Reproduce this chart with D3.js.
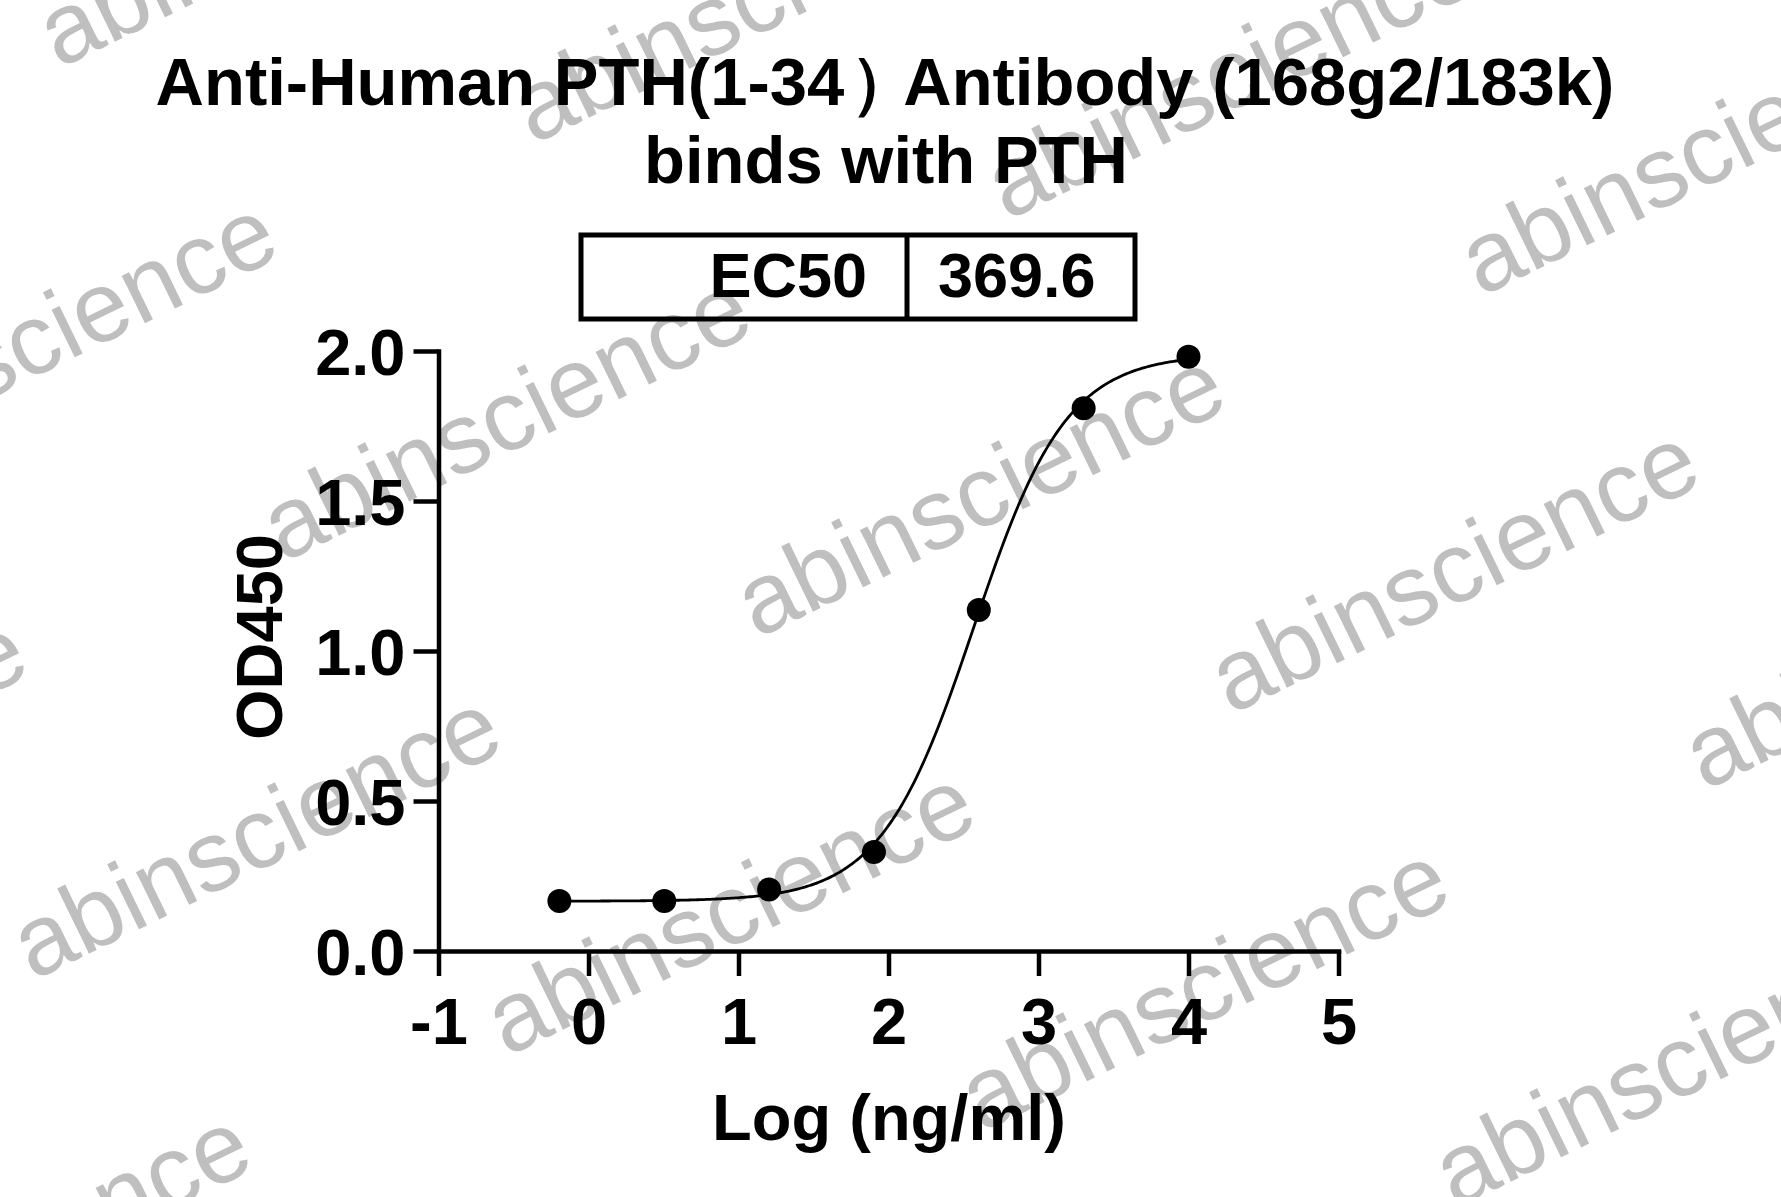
<!DOCTYPE html>
<html>
<head>
<meta charset="utf-8">
<script src="https://cdn.jsdelivr.net/npm/d3@7"></script>
<style>
html,body{margin:0;padding:0;background:#fff;}
svg{display:block;}
</style>
</head>
<body>
<svg id="chart" width="1781" height="1197"></svg>
<script>
// ---- data ----
const titleLine1Parts = ["Anti-Human PTH(1-34", "）", "Antibody (168g2/183k)"];
const titleLine2 = "binds with PTH";
const logConc = [-0.194, 0.505, 1.204, 1.903, 2.602, 3.301, 4.0];
const od450 = [0.167, 0.167, 0.205, 0.330, 1.137, 1.809, 1.981];
const xTicks = [-1, 0, 1, 2, 3, 4, 5];
const yTicks = [0.0, 0.5, 1.0, 1.5, 2.0];
const ec50Label = "EC50";
const ec50Value = "369.6";
// four-parameter logistic fit parameters
const fitBottom = 0.166, fitTop = 1.99, fitHill = 1.4, fitLogEC50 = Math.log10(369.6);
const xLabel = "Log (ng/ml)";
const yLabel = "OD450";
const watermarkText = "abinscience";

const FONT = "'Liberation Sans', Arial, Helvetica, sans-serif";
const svg = d3.select("#chart");

// ---- watermark lattice (behind everything) ----
const wm = svg.append("g");
const O = [757, 639], A = [474, 76], B = [-250, 418];
for (let i = -4; i <= 5; i++) {
  for (let j = -3; j <= 3; j++) {
    const px = O[0] + i * A[0] + j * B[0];
    const py = O[1] + i * A[1] + j * B[1];
    if (px < -700 || px > 1900 || py < -150 || py > 1450) continue;
    wm.append("text")
      .attr("transform", `translate(${px},${py}) rotate(-26)`)
      .attr("font-family", FONT)
      .attr("font-size", 100)
      .attr("fill", "#bfbfbf")
      .text(watermarkText);
  }
}

// ---- scales ----
const x = d3.scaleLinear().domain([-1, 5]).range([438.5, 1338.5]);
const y = d3.scaleLinear().domain([0, 2]).range([951, 351]);

// ---- title ----
const t1 = svg.append("text")
  .attr("x", 885).attr("y", 105)
  .attr("text-anchor", "middle")
  .attr("font-family", FONT).attr("font-weight", "bold").attr("font-size", 67).attr("fill", "#000");
t1.append("tspan").text(titleLine1Parts[0]);
t1.append("tspan").attr("dx", 6).attr("letter-spacing", -14).text(titleLine1Parts[1]);
t1.append("tspan").text(titleLine1Parts[2]);
svg.append("text")
  .attr("x", 886).attr("y", 183)
  .attr("text-anchor", "middle")
  .attr("font-family", FONT).attr("font-weight", "bold").attr("font-size", 67).attr("fill", "#000")
  .text(titleLine2);

// ---- EC50 table ----
const tb = svg.append("g");
tb.append("rect").attr("x", 581).attr("y", 235).attr("width", 554).attr("height", 84)
  .attr("fill", "none").attr("stroke", "#000").attr("stroke-width", 5);
tb.append("line").attr("x1", 907).attr("x2", 907).attr("y1", 235).attr("y2", 319)
  .attr("stroke", "#000").attr("stroke-width", 5);
tb.append("text").attr("x", 867).attr("y", 297).attr("text-anchor", "end")
  .attr("font-family", FONT).attr("font-weight", "bold").attr("font-size", 63).text(ec50Label);
tb.append("text").attr("x", 938).attr("y", 297).attr("text-anchor", "start")
  .attr("font-family", FONT).attr("font-weight", "bold").attr("font-size", 63).text(ec50Value);

// ---- axes ----
const axW = 4.5;
const yAxis = svg.append("g")
  .attr("transform", `translate(${x(-1)},0)`)
  .call(d3.axisLeft(y).tickValues(yTicks).tickFormat(d3.format(".1f")).tickSize(25).tickSizeOuter(0).tickPadding(8));
const xAxis = svg.append("g")
  .attr("transform", `translate(0,${y(0)})`)
  .call(d3.axisBottom(x).tickValues(xTicks).tickFormat(d3.format("d")).tickSize(25).tickSizeOuter(0).tickPadding(22));

[yAxis, xAxis].forEach(g => {
  g.select(".domain").attr("stroke", "#000").attr("stroke-width", axW).attr("stroke-linecap", "square");
  g.selectAll(".tick line").attr("stroke", "#000").attr("stroke-width", axW);
  g.selectAll(".tick text")
    .attr("font-family", FONT).attr("font-weight", "bold").attr("font-size", 65).attr("fill", "#000");
});
yAxis.selectAll(".tick text").attr("dy", "0.36em");
xAxis.selectAll(".tick text").attr("dy", "0.71em");
xAxis.selectAll(".tick text").text(d => d < 0 ? "-" + Math.abs(d) : d);

// ---- axis titles ----
svg.append("text").attr("x", 889).attr("y", 1140).attr("text-anchor", "middle")
  .attr("font-family", FONT).attr("font-weight", "bold").attr("font-size", 65).text(xLabel);
svg.append("text").attr("transform", "translate(282,637) rotate(-90)").attr("text-anchor", "middle")
  .attr("font-family", FONT).attr("font-weight", "bold").attr("font-size", 65).text(yLabel);

// ---- fitted curve ----
const fit = v => fitBottom + (fitTop - fitBottom) / (1 + Math.pow(10, (fitLogEC50 - v) * fitHill));
const xMin = d3.min(logConc), xMax = d3.max(logConc);
const curvePts = d3.range(0, 301).map(k => {
  const v = xMin + (xMax - xMin) * k / 300;
  return [v, fit(v)];
});
svg.append("path")
  .datum(curvePts)
  .attr("fill", "none").attr("stroke", "#000").attr("stroke-width", 2.8)
  .attr("d", d3.line().x(d => x(d[0])).y(d => y(d[1])));

// ---- points ----
svg.append("g").selectAll("circle").data(logConc.map((v, i) => [v, od450[i]])).join("circle")
  .attr("cx", d => x(d[0])).attr("cy", d => y(d[1])).attr("r", 12).attr("fill", "#000");
</script>
</body>
</html>
